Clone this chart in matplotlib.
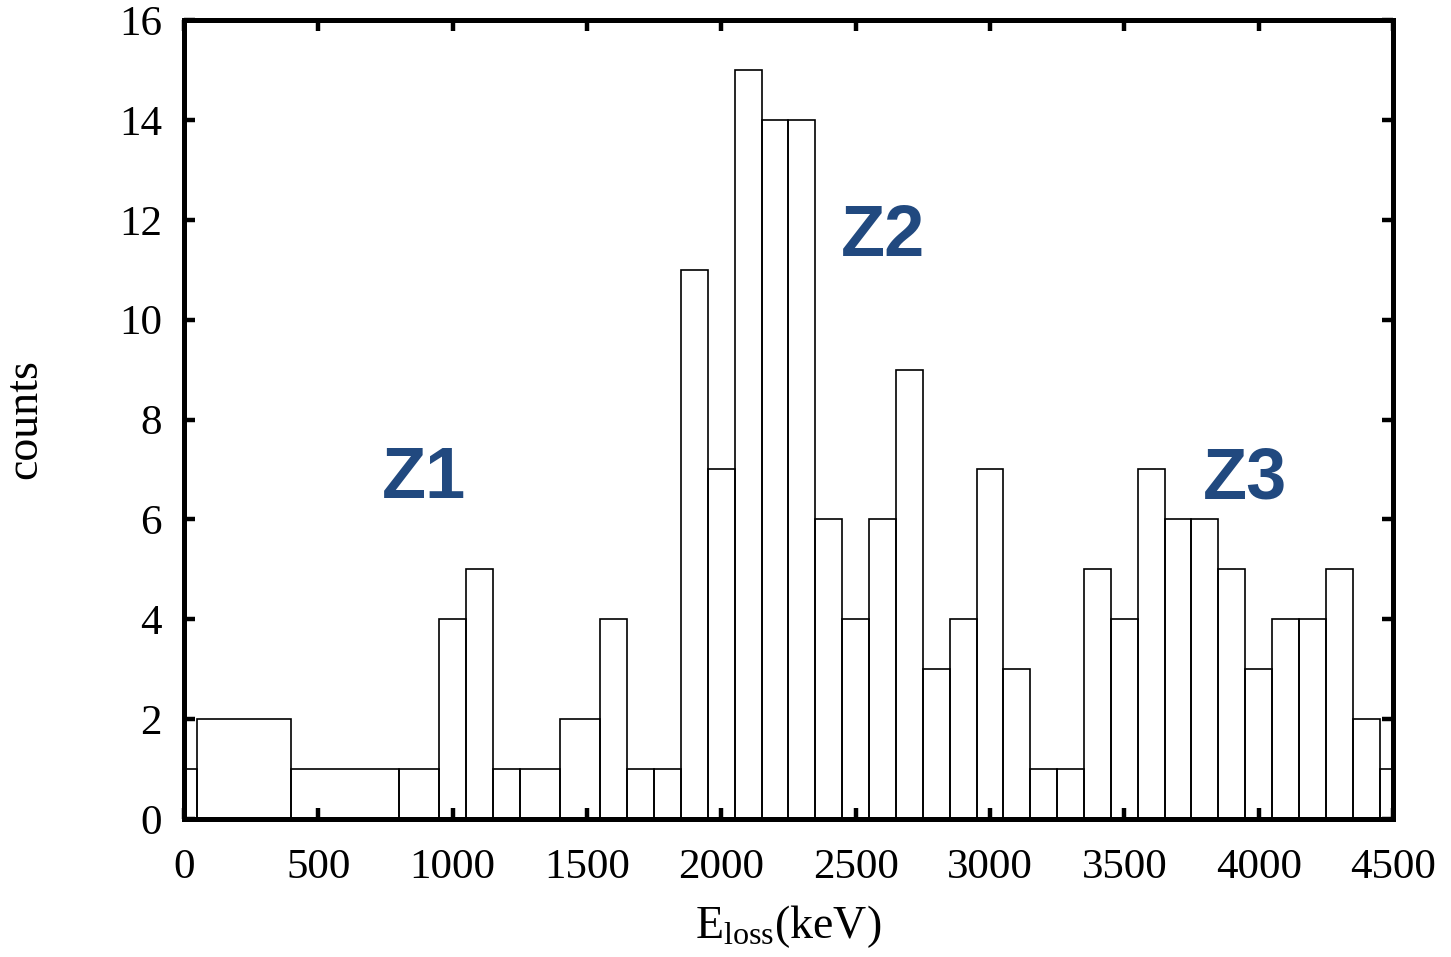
import numpy as np
import matplotlib
matplotlib.use("Agg")
import matplotlib.pyplot as plt

plt.rcParams['font.family'] = ['Liberation Serif', 'DejaVu Serif']
plt.rcParams['mathtext.fontset'] = 'custom'
plt.rcParams['mathtext.rm'] = 'Liberation Serif'
plt.rcParams['mathtext.it'] = 'Liberation Serif:italic'

# bin edges (keV) and counts
edges = [0, 50, 400, 800, 950, 1050, 1150, 1250, 1400, 1550, 1650, 1750, 1850,
         1950, 2050, 2150, 2250, 2350, 2450, 2550, 2650, 2750, 2850, 2950, 3050,
         3150, 3250, 3350, 3450, 3550, 3650, 3750, 3850, 3950, 4050, 4150, 4250,
         4350, 4450, 4500]
counts = [1, 2, 1, 1, 4, 5, 1, 1, 2, 4, 1, 1, 11, 7, 15, 14, 14, 6, 4, 6, 9, 3,
          4, 7, 3, 1, 1, 5, 4, 7, 6, 6, 5, 3, 4, 4, 5, 2, 1]

zones = ['Z1', 'Z2', 'Z3']
zone_x = [895, 2600, 3950]
zone_y = [6.8, 11.65, 6.8]

xticks = np.arange(0, 4501, 500)
yticks = np.arange(0, 17, 2)

edges = np.array(edges)
widths = np.diff(edges)

fig = plt.figure(figsize=(14.51, 9.57), dpi=100)
ax = fig.add_axes([0.1268, 0.1442, 0.8332, 0.8348])

ax.bar(edges[:-1], counts, width=widths, align='edge', fill=False,
       edgecolor='black', linewidth=1.2)

for z, zx, zy in zip(zones, zone_x, zone_y):
    ax.text(zx, zy, z, ha='center', va='center', color='#21497f',
            fontsize=52, fontweight='bold', family=['Liberation Sans', 'DejaVu Sans'])

ax.set_xlim(0, 4500)
ax.set_ylim(0, 16)
ax.set_xticks(xticks)
ax.set_yticks(yticks)

for s in ax.spines.values():
    s.set_linewidth(3.6)

ax.tick_params(direction='in', top=True, right=True, length=8, width=3.2,
               labelsize=31)
ax.tick_params(axis='x', pad=21)
ax.tick_params(axis='y', pad=16)

ax.set_xlabel(r'E$_{\mathrm{loss}}$(keV)', fontsize=33, labelpad=12)
ax.set_ylabel('counts', fontsize=33, labelpad=52)

fig.savefig('out.png', dpi=100)
